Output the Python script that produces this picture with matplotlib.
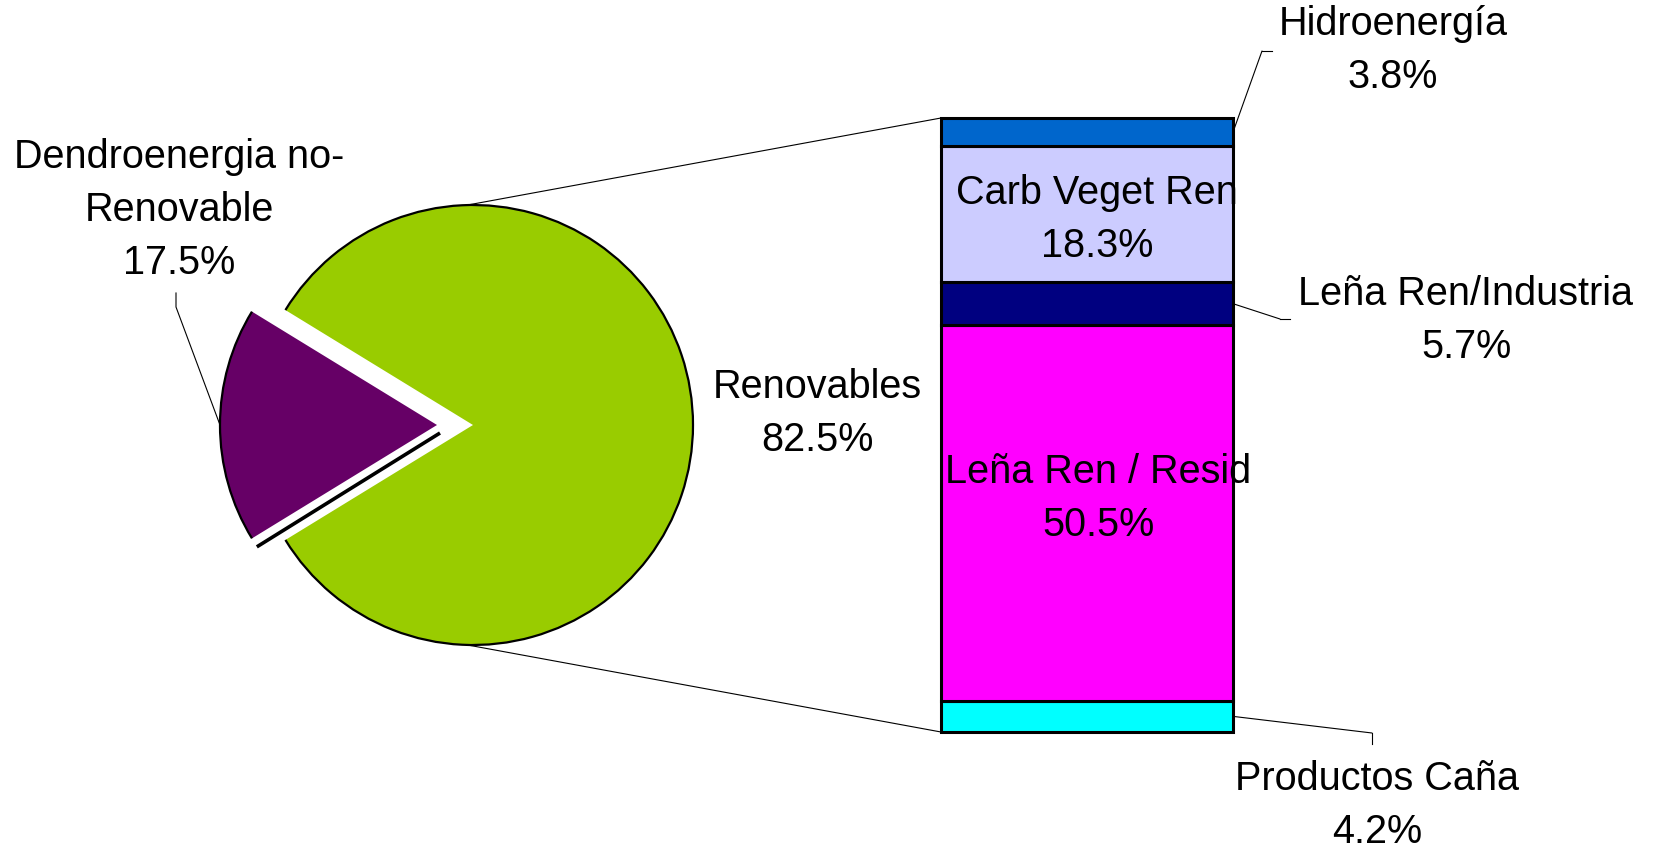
import matplotlib
matplotlib.use('Agg')
import matplotlib.pyplot as plt
import numpy as np
from matplotlib.patches import Arc, ConnectionPatch

plt.rcParams['font.family'] = ['Liberation Sans', 'DejaVu Sans']

# ---- data ----
pie_labels = ['Dendroenergia no-\nRenovable', 'Renovables']
pie_values = [17.5, 82.5]
pie_colors = ['#660066', '#99CC00']

bar_labels = ['Productos Caña', 'Leña Ren / Resid', 'Leña Ren/Industria',
              'Carb Veget Ren', 'Hidroenergía']
bar_values = [4.2, 50.5, 5.7, 18.3, 3.8]
bar_colors = ['#00FFFF', '#FF00FF', '#000080', '#CCCCFF', '#0066CC']

# ---- layout (pixel positions, y measured from top) ----
W, H = 1655, 851
FS = 28.5
LS = 1.51


def py(y):
    return H - y


fig = plt.figure(figsize=(W / 100, H / 100), dpi=100)
ax = fig.add_axes([0, 0, 1, 1])
ax.set_zorder(2)
ax.patch.set_visible(False)

center = (473, py(425))
R = 220
start = 180 - pie_values[0] / 100 * 360 / 2
wedges, _ = ax.pie(pie_values, colors=pie_colors, startangle=start,
                   center=center, radius=R, frame=True,
                   wedgeprops=dict(linewidth=0))
# explode the first slice to the left
pw = wedges[0]
pw.set_center((center[0] - 36, center[1]))
pw.set_radius(217)

for w in wedges:
    arc = Arc(w.center, 2 * w.r, 2 * w.r, theta1=w.theta1, theta2=w.theta2,
              color='black', linewidth=1.6, zorder=3)
    ax.add_patch(arc)

# shadow line under the exploded slice
t2 = np.deg2rad(pw.theta2)
cx, cy = pw.center
ax.plot([cx + 3, cx + 4 + 216 * np.cos(t2)],
        [cy - 8, cy - 9 + 216 * np.sin(t2)],
        color='black', linewidth=2.6, solid_capstyle='butt', zorder=0.5)

ax.set_xlim(0, W)
ax.set_ylim(0, H)
ax.set_aspect('equal')
ax.axis('off')

# ---- stacked bar ----
bx = fig.add_axes([941 / W, (H - 732) / H, 292 / W, 614 / H])
bx.set_zorder(1)
bottom = 0
mids = []
for v, c in zip(bar_values, bar_colors):
    bx.bar(0, v, bottom=bottom, width=1, color=c, edgecolor='black',
           linewidth=2.2, clip_on=False)
    mids.append(bottom + v / 2)
    bottom += v
bx.set_xlim(-0.5, 0.5)
bx.set_ylim(0, sum(bar_values))
bx.axis('off')

# connection lines between pie and bar
for ang, yb in [(91.5, sum(bar_values)), (268.5, 0)]:
    a = np.deg2rad(ang)
    p = (center[0] + R * np.cos(a), center[1] + R * np.sin(a))
    con = ConnectionPatch(xyA=p, coordsA=ax.transData, xyB=(-0.5, yb),
                          coordsB=bx.transData, color='black', linewidth=0.8)
    fig.add_artist(con)

# ---- labels ----
def label(x, ytop, txt):
    ax.text(x, py(ytop), txt, ha='center', va='top', fontsize=FS,
            linespacing=LS, color='black', zorder=5)

asc = 0.716 * FS * 100 / 72 + 4

# pie labels
pie_label_pos = [(179, 170), (817, 400)]
for lab, v, (x, yb) in zip(pie_labels, pie_values, pie_label_pos):
    label(x, yb - asc, f'{lab}\n{v:.1f}%')

# bar labels (first baseline positions)
bar_label_pos = [(1377, 792), (1098, 485), (1466, 307), (1097, 206), (1393, 37)]
for lab, v, (x, yb) in zip(bar_labels, bar_values, bar_label_pos):
    label(x, yb - asc, f'{lab}\n{v:.1f}%')

# leader lines from bar segments
leaders = {0: [(1372, 733), (1372, 744)],
           2: [(1280, 319), (1290, 319)],
           4: [(1262, 51), (1272, 51)]}
for i, pts in leaders.items():
    p1 = (pts[0][0], py(pts[0][1]))
    con = ConnectionPatch(xyA=(0.5, mids[i]), coordsA=bx.transData,
                          xyB=p1, coordsB=ax.transData, color='black',
                          linewidth=0.8)
    fig.add_artist(con)
    ax.plot([pts[0][0], pts[1][0]], [py(pts[0][1]), py(pts[1][1])],
            color='black', linewidth=0.8)

# leader for the exploded pie slice
tm = np.deg2rad((pw.theta1 + pw.theta2) / 2)
ex = (cx + pw.r * np.cos(tm), cy + pw.r * np.sin(tm))
ax.plot([ex[0], 176, 176], [ex[1], py(307), py(293)], color='black',
        linewidth=0.8)

fig.savefig('out.png', dpi=100)
